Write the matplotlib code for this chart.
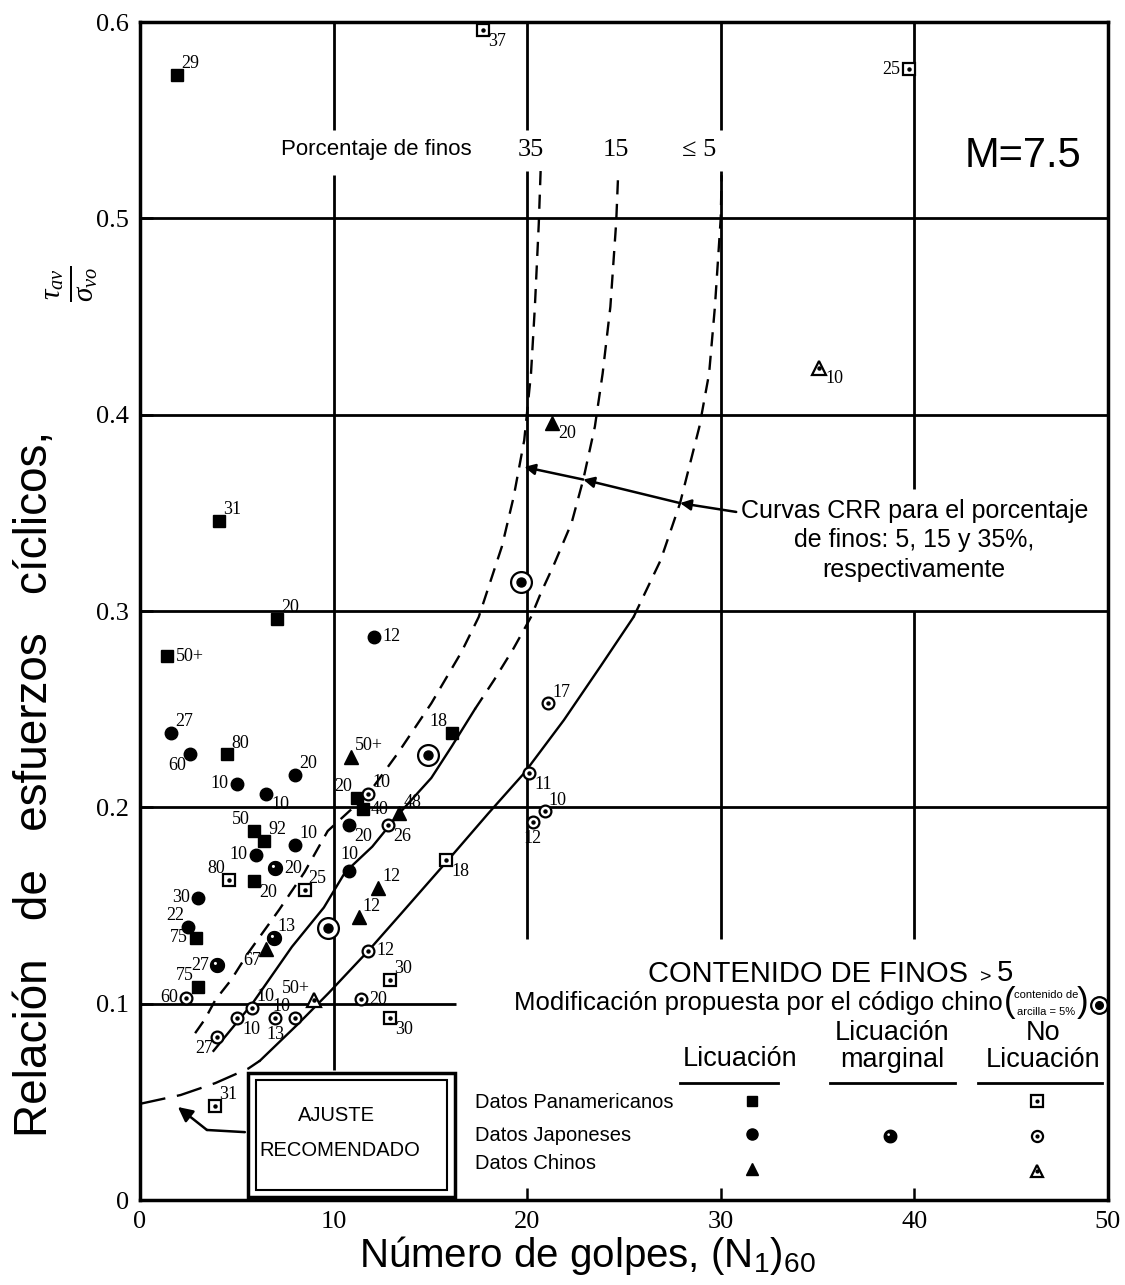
import numpy as np
import matplotlib
matplotlib.use("Agg")
import matplotlib.pyplot as plt
from matplotlib.path import Path
from matplotlib.patches import Rectangle

SERIF = "Liberation Serif"
SANS = "Liberation Sans"
plt.rcParams['mathtext.fontset'] = 'custom'
plt.rcParams['mathtext.rm'] = SANS
plt.rcParams['mathtext.it'] = 'Liberation Serif:italic'

# ---- CRR curves: (N1)60 and stress ratio ----
crr35_n = [2.85, 3.35, 3.9, 4.7, 5.6, 7.2, 8.5, 9.7, 11.8, 13.35, 15.05, 16.6,
           17.5, 18.0, 18.7, 19.3, 19.85, 20.2, 20.4, 20.6, 20.7]
crr35_r = [0.085, 0.092, 0.102, 0.112, 0.126, 0.148, 0.167, 0.188, 0.207, 0.228,
           0.253, 0.279, 0.297, 0.312, 0.333, 0.358, 0.387, 0.421, 0.455, 0.497, 0.525]

crr15_solid_n = [3.8, 5.8, 7.85, 9.5, 10.6, 12.0, 13.4, 15.05, 16.1, 17.3]
crr15_solid_r = [0.076, 0.100, 0.129, 0.149, 0.167, 0.180, 0.197, 0.215, 0.231, 0.250]
crr15_dash_n = [17.3, 18.3, 19.3, 20.2, 20.7, 21.4, 22.3, 22.9, 23.5, 23.9, 24.3, 24.6, 24.7]
crr15_dash_r = [0.250, 0.265, 0.281, 0.297, 0.309, 0.324, 0.345, 0.367, 0.394, 0.421,
                0.455, 0.498, 0.522]

crr5_fit_n = [0.0, 2.1, 3.9, 5.6, 6.2]
crr5_fit_r = [0.049, 0.0535, 0.0596, 0.067, 0.071]
crr5_solid_n = [6.2, 8.2, 9.75, 11.8, 13.5, 15.9, 18.0, 19.85, 21.9, 23.8, 25.5]
crr5_solid_r = [0.071, 0.090, 0.1055, 0.127, 0.146, 0.173, 0.197, 0.2175, 0.2445, 0.272, 0.297]
crr5_dash_n = [25.5, 26.9, 27.9, 28.9, 29.4, 29.7, 30.0, 30.05]
crr5_dash_r = [0.297, 0.326, 0.355, 0.394, 0.421, 0.455, 0.500, 0.522]

# ---- case histories ----
pan_liq_n = [1.9, 4.1, 7.1, 1.4, 4.5, 16.1, 11.2, 11.5, 5.9, 6.4, 5.9, 2.9, 3.0]
pan_liq_r = [0.573, 0.346, 0.296, 0.277, 0.227, 0.238, 0.205, 0.199, 0.188, 0.183, 0.1625, 0.1335, 0.1085]
pan_liq_lbl = ["29", "31", "20", "50+", "80", "18", "20", "40", "50", "92", "20", "75", "75"]

pan_no_n = [17.7, 39.7, 4.6, 8.5, 15.8, 12.9, 12.9, 3.9]
pan_no_r = [0.596, 0.576, 0.163, 0.158, 0.173, 0.112, 0.0927, 0.048]
pan_no_lbl = ["37", "25", "80", "25", "18", "30", "30", "31"]

jap_liq_n = [12.1, 1.6, 2.6, 5.0, 6.5, 8.0, 10.8, 8.0, 6.0, 10.8, 3.0, 2.5]
jap_liq_r = [0.287, 0.238, 0.227, 0.212, 0.207, 0.2165, 0.191, 0.181, 0.176, 0.1676, 0.154, 0.139]
jap_liq_lbl = ["12", "27", "60", "10", "10", "20", "20", "10", "10", "10", "30", "22"]

jap_marg_n = [7.0, 6.9, 4.0]
jap_marg_r = [0.169, 0.1335, 0.1197]
jap_marg_lbl = ["20", "13", "27"]

jap_no_n = [11.8, 12.8, 2.4, 5.8, 5.0, 7.0, 8.0, 4.0, 11.8, 11.4, 21.1, 20.1, 20.9, 20.3]
jap_no_r = [0.207, 0.191, 0.103, 0.098, 0.0927, 0.0927, 0.0927, 0.083, 0.127, 0.1024,
            0.253, 0.2175, 0.198, 0.1925]
jap_no_lbl = ["10", "26", "60", "10", "10", "13", "10", "27", "12", "20", "17", "11", "10", "12"]

chi_liq_n = [10.9, 13.4, 12.3, 11.3, 6.5, 21.3]
chi_liq_r = [0.2257, 0.197, 0.159, 0.144, 0.128, 0.396]
chi_liq_lbl = ["50+", "48", "12", "12", "67", "20"]

chi_no_n = [9.0, 35.1]
chi_no_r = [0.102, 0.424]
chi_no_lbl = ["50+", "10"]

chino_mod_n = [19.7, 14.9, 9.7]
chino_mod_r = [0.315, 0.2267, 0.1386]

# label placement around each point (layout only)
pan_liq_pos = ['ur', 'ur', 'ur', 'r', 'ur', 'ul', 'ul', 'r', 'ul', 'ur', 'lr', 'l', 'ul']
pan_no_pos = ['lr', 'l', 'ul', 'ur', 'lr', 'ur', 'lr', 'ur']
jap_liq_pos = ['r', 'ur', 'll', 'l', 'lr', 'ur', 'lr', 'ur', 'l', 'u', 'l', 'ul']
jap_marg_pos = ['r', 'ur', 'l']
jap_no_pos = ['ur', 'lr', 'l', 'ur', 'lr', 'd', 'ul', 'll', 'r', 'r', 'ur', 'lr', 'ur', 'd']
chi_liq_pos = ['ur', 'ur', 'ur', 'ur', 'll', 'lr']
chi_no_pos = ['ul', 'lr']

OFFS = {'ur': (3, 2, 'left', 'bottom'), 'r': (6, 0, 'left', 'center'),
        'lr': (4, -2, 'left', 'top'), 'ul': (-3, 2, 'right', 'bottom'),
        'l': (-6, 0, 'right', 'center'), 'll': (-3, -2, 'right', 'top'),
        'u': (0, 6, 'center', 'bottom'), 'd': (0, -6, 'center', 'top')}

# marker with a small hole: "licuacion marginal"
th = np.linspace(0, 2 * np.pi, 65)
outer = np.column_stack([np.cos(th), np.sin(th)])
inner = 0.32 * np.column_stack([np.cos(-th), np.sin(-th)]) + [-0.3, 0.3]
codes = [Path.MOVETO] + [Path.LINETO] * 63 + [Path.CLOSEPOLY]
MARG = Path(np.vstack([outer, inner]), codes + codes)

fig = plt.figure(figsize=(11.25, 12.85), dpi=100)
ax = fig.add_axes([0.1244, 0.0661, 0.8604, 0.9167])
ax.set_xlim(0, 50)
ax.set_ylim(0, 0.6)

# partial grid lines as drawn in the original
for y, x0, x1 in [(0.5, 0, 50), (0.4, 0, 50), (0.3, 0, 50), (0.2, 0, 50), (0.1, 0, 16.3)]:
    ax.hlines(y, x0, x1, color='black', lw=2, zorder=1)
for x, segs in [(10, [(0.545, 0.6), (0.066, 0.522)]),
                (20, [(0.545, 0.6), (0.133, 0.524)]),
                (30, [(0.545, 0.6), (0.133, 0.524)]),
                (40, [(0.362, 0.6), (0.133, 0.300)])]:
    for y0, y1 in segs:
        ax.vlines(x, y0, y1, color='black', lw=2, zorder=1)

# CRR curves
kw = dict(color='black', lw=1.7, zorder=2)
ax.plot(crr35_n, crr35_r, dashes=(6, 4), **kw)
ax.plot(crr15_solid_n, crr15_solid_r, **kw)
ax.plot(crr15_dash_n, crr15_dash_r, dashes=(6, 4), **kw)
ax.plot(crr5_fit_n, crr5_fit_r, dashes=(11, 5), **kw)
ax.plot(crr5_solid_n, crr5_solid_r, **kw)
ax.plot(crr5_dash_n, crr5_dash_r, dashes=(6, 4), **kw)


def put_labels(ns, rs, lbls, pos):
    for x, y, t, p in zip(ns, rs, lbls, pos):
        dx, dy, ha, va = OFFS[p]
        ax.annotate(t, (x, y), xytext=(dx, dy), textcoords='offset points',
                    ha=ha, va=va, fontsize=13, family=SERIF, zorder=6)


def dotted(ns, rs, marker, size):
    ax.plot(ns, rs, ls='none', marker=marker, ms=size, mfc='white', mec='black', mew=1.6, zorder=4)
    ax.plot(ns, rs, ls='none', marker='o', ms=2.2, color='black', zorder=5)


ax.plot(pan_liq_n, pan_liq_r, ls='none', marker='s', ms=8.5, color='black', zorder=4)
put_labels(pan_liq_n, pan_liq_r, pan_liq_lbl, pan_liq_pos)
dotted(pan_no_n, pan_no_r, 's', 8.5)
put_labels(pan_no_n, pan_no_r, pan_no_lbl, pan_no_pos)
ax.plot(jap_liq_n, jap_liq_r, ls='none', marker='o', ms=9, color='black', zorder=4)
put_labels(jap_liq_n, jap_liq_r, jap_liq_lbl, jap_liq_pos)
ax.plot(jap_marg_n, jap_marg_r, ls='none', marker=MARG, ms=10, color='black', zorder=4)
put_labels(jap_marg_n, jap_marg_r, jap_marg_lbl, jap_marg_pos)
dotted(jap_no_n, jap_no_r, 'o', 8.5)
put_labels(jap_no_n, jap_no_r, jap_no_lbl, jap_no_pos)
ax.plot(chi_liq_n, chi_liq_r, ls='none', marker='^', ms=9.5, color='black', zorder=4)
put_labels(chi_liq_n, chi_liq_r, chi_liq_lbl, chi_liq_pos)
dotted(chi_no_n, chi_no_r, '^', 9.5)
put_labels(chi_no_n, chi_no_r, chi_no_lbl, chi_no_pos)
ax.plot(chino_mod_n, chino_mod_r, ls='none', marker='o', ms=15, mfc='white', mec='black', mew=1.6, zorder=4)
ax.plot(chino_mod_n, chino_mod_r, ls='none', marker='o', ms=6.5, color='black', zorder=5)

# curve labels
ax.text(12.2, 0.535, "Porcentaje de finos", family=SANS, fontsize=16, ha='center', va='center')
for x, t in [(20.2, "35"), (24.6, "15"), (28.9, "\u2264 5")]:
    ax.text(x, 0.535, t, family=SERIF, fontsize=19, ha='center', va='center')
ax.text(45.6, 0.532, "M=7.5", family=SANS, fontsize=30, ha='center', va='center')

# CRR arrows
ax.text(40.0, 0.336, "Curvas CRR para el porcentaje\nde finos: 5, 15 y 35%,\nrespectivamente",
        family=SANS, fontsize=18, ha='center', va='center', linespacing=1.3,
        bbox=dict(fc='white', ec='none', pad=1))
aprops = dict(arrowstyle='-|>', color='black', lw=1.8, mutation_scale=16, shrinkA=0, shrinkB=0)
ax.annotate("", xy=(27.9, 0.355), xytext=(30.8, 0.3505), arrowprops=aprops)
ax.annotate("", xy=(22.9, 0.367), xytext=(27.9, 0.355), arrowprops=aprops)
ax.annotate("", xy=(19.85, 0.3734), xytext=(22.9, 0.367), arrowprops=aprops)

# recommended fit box
ax.add_patch(Rectangle((0.1116, 0.0025), 0.2138, 0.1053, transform=ax.transAxes,
                       fc='white', ec='black', lw=2.5, zorder=6))
ax.add_patch(Rectangle((0.1198, 0.0085), 0.1973, 0.0934, transform=ax.transAxes,
                       fc='none', ec='black', lw=1.5, zorder=7))
ax.text(0.2035, 0.0722, "AJUSTE", transform=ax.transAxes, family=SANS, fontsize=14.5,
        ha='center', va='center', zorder=8)
ax.text(0.2066, 0.0424, "RECOMENDADO", transform=ax.transAxes, family=SANS, fontsize=14.5,
        ha='center', va='center', zorder=8)
ax.annotate("", xy=(3.46, 0.0357), xytext=(5.42, 0.0346),
            arrowprops=dict(arrowstyle='-', color='black', lw=1.8, shrinkA=0, shrinkB=0))
ax.annotate("", xy=(1.96, 0.0474), xytext=(3.46, 0.0357),
            arrowprops=dict(arrowstyle='-|>', color='black', lw=1.8, mutation_scale=22,
                            shrinkA=0, shrinkB=0))

# legend block
T = ax.transAxes
ax.text(0.690, 0.192, "CONTENIDO DE FINOS", transform=T, family=SANS, fontsize=21,
        ha='center', va='center')
ax.text(0.874, 0.189, ">", transform=T, family=SANS, fontsize=14, ha='center', va='center')
ax.text(0.894, 0.193, "5", transform=T, family=SANS, fontsize=21, ha='center', va='center')
ax.text(0.891, 0.167, "Modificación propuesta por el código chino", transform=T,
        family=SANS, fontsize=18.5, ha='right', va='center')
ax.text(0.899, 0.168, "(", transform=T, family=SANS, fontsize=25, ha='center', va='center')
ax.text(0.974, 0.168, ")", transform=T, family=SANS, fontsize=25, ha='center', va='center')
ax.text(0.9365, 0.1745, "contenido de", transform=T, family=SANS, fontsize=8, ha='center', va='center')
ax.text(0.9365, 0.160, "arcilla = 5%", transform=T, family=SANS, fontsize=8, ha='center', va='center')
ax.plot([0.9905], [0.166], transform=T, marker='o', ms=12, mfc='white', mec='black', mew=1.6, clip_on=False)
ax.plot([0.9905], [0.166], transform=T, marker='o', ms=5.5, color='black', clip_on=False)

ax.text(0.620, 0.120, "Licuación", transform=T, family=SANS, fontsize=19.5, ha='center', va='center')
ax.text(0.777, 0.130, "Licuación\nmarginal", transform=T, family=SANS, fontsize=19.5,
        ha='center', va='center', linespacing=1.05)
ax.text(0.933, 0.130, "No\nLicuación", transform=T, family=SANS, fontsize=19.5,
        ha='center', va='center', linespacing=1.05)
for x0, x1 in [(0.558, 0.659), (0.713, 0.842), (0.866, 0.994)]:
    ax.plot([x0, x1], [0.0993, 0.0993], transform=T, color='black', lw=2)

rows = [("Datos Panamericanos", 0.0832), ("Datos Japoneses", 0.0552), ("Datos Chinos", 0.0314)]
for txt, y in rows:
    ax.text(0.346, y, txt, transform=T, family=SANS, fontsize=14.5, ha='left', va='center')
mk = dict(transform=T, ls='none', color='black')
ax.plot([0.632], [0.084], marker='s', ms=7, **mk)
ax.plot([0.632], [0.056], marker='o', ms=8, **mk)
ax.plot([0.632], [0.0265], marker='^', ms=8.5, **mk)
ax.plot([0.775], [0.0545], marker=MARG, ms=9, **mk)
for y, m in [(0.084, 's'), (0.0545, 'o'), (0.0245, '^')]:
    ax.plot([0.927], [y], transform=T, marker=m, ms=8, mfc='white', mec='black', mew=1.6)
    ax.plot([0.927], [y], transform=T, marker='o', ms=2, color='black')

# axes styling
for s in ax.spines.values():
    s.set_linewidth(2.5)
ax.set_xticks([0, 10, 20, 30, 40, 50])
ax.set_yticks([0, 0.1, 0.2, 0.3, 0.4, 0.5, 0.6])
ax.set_yticklabels(["0", "0.1", "0.2", "0.3", "0.4", "0.5", "0.6"])
ax.tick_params(direction='in', length=9, width=1.8, labelsize=19, pad=8)
for lab in ax.get_xticklabels() + ax.get_yticklabels():
    lab.set_family(SERIF)

fig.text(0.522, 0.023, "Número de golpes, (N$_1$)$_{60}$", family=SANS, fontsize=29,
         ha='center', va='center')
fig.text(0.031, 0.39, "Relación   de   esfuerzos   cíclicos,", family=SANS, fontsize=33,
         rotation=90, ha='center', va='center')
fig.text(0.064, 0.779, r"$\frac{\tau_{av}}{\sigma_{vo}}$", fontsize=30,
         rotation=90, ha='center', va='center')

fig.savefig("out.png", dpi=100)
